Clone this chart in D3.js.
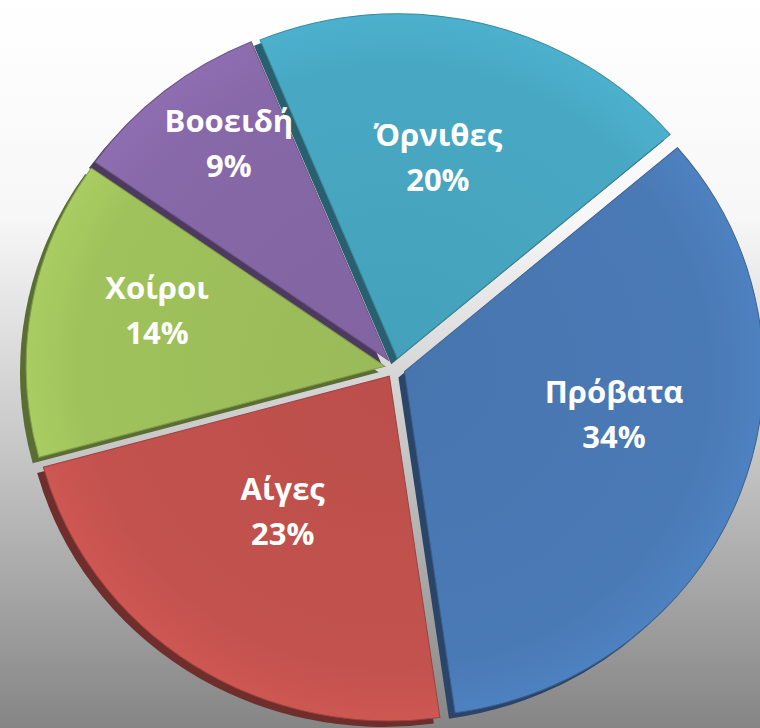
<!DOCTYPE html>
<html>
<head>
<script src="https://cdnjs.cloudflare.com/ajax/libs/d3/7.8.5/d3.min.js"></script>
<style>
  body { margin: 0; }
  text { font-family: "Open Sans", "DejaVu Sans", sans-serif; font-weight: bold; fill: #fff; }
</style>
</head>
<body>
<script>
// data
var categories = ["Πρόβατα", "Αίγες", "Χοίροι", "Βοοειδή", "Όρνιθες"];
var values = [34, 23, 14, 9, 20];
var percentLabels = ["34%", "23%", "14%", "9%", "20%"];
var colors = ["#4a7ab6", "#c3524e", "#a0c25c", "#8768a8", "#48a8c3"];

var width = 760, height = 728;
var cx = 395, cy = 368, radius = 350, explode = 10;
var sx = 1.025, sy = 0.985; // slight tilt of the pie
var startDeg = 49.5;
// label placement: distance from slice centre and small angle nudge (deg)
var labelPlace = [[214, -9.2], [172, 5.1], [235, 4.0], [270, 2.4], [205, -2.1]];

var svg = d3.select("body").append("svg")
	.attr("width", width)
	.attr("height", height);

var defs = svg.append("defs");
var bg = defs.append("linearGradient").attr("id", "bg")
	.attr("x1", 0).attr("y1", 0).attr("x2", 0).attr("y2", 1);
bg.append("stop").attr("offset", "0").attr("stop-color", "#ffffff");
bg.append("stop").attr("offset", "0.3").attr("stop-color", "#f7f7f7");
bg.append("stop").attr("offset", "0.62").attr("stop-color", "#c6c6c6");
bg.append("stop").attr("offset", "1").attr("stop-color", "#858585");

colors.forEach(function (c, i) {
	var g = defs.append("radialGradient").attr("id", "sl" + i)
		.attr("gradientUnits", "userSpaceOnUse")
		.attr("cx", 0).attr("cy", 0).attr("r", radius);
	g.append("stop").attr("offset", "0").attr("stop-color", d3.color(c).darker(0.12));
	g.append("stop").attr("offset", "0.85").attr("stop-color", c);
	g.append("stop").attr("offset", "1").attr("stop-color", d3.color(c).brighter(0.15));
});

svg.append("rect")
	.attr("width", width)
	.attr("height", height)
	.attr("fill", "url(#bg)");

var start = startDeg * Math.PI / 180;
var pie = d3.pie().sort(null).startAngle(start).endAngle(start + 2 * Math.PI);
var arc = d3.arc().innerRadius(0).outerRadius(radius);
var arcs = pie(values);

function shift(d) {
	var a = (d.startAngle + d.endAngle) / 2;
	return [explode * Math.sin(a), -explode * Math.cos(a)];
}

var pieG = svg.append("g")
	.attr("transform", "translate(" + cx + "," + cy + ") scale(" + sx + "," + sy + ")");

// side faces (thickness)
pieG.selectAll(".side")
	.data(arcs)
	.enter()
	.append("path")
	.attr("class", "side")
	.attr("transform", function (d) { var p = shift(d); return "translate(" + (p[0] - 6) + "," + (p[1] + 6) + ")"; })
	.attr("d", arc)
	.attr("fill", function (d, i) { return d3.color(colors[i]).darker(1.6); });

// top faces
pieG.selectAll(".slice")
	.data(arcs)
	.enter()
	.append("path")
	.attr("class", "slice")
	.attr("transform", function (d) { var p = shift(d); return "translate(" + p[0] + "," + p[1] + ")"; })
	.attr("d", arc)
	.attr("fill", function (d, i) { return "url(#sl" + i + ")"; })
	.attr("stroke", function (d, i) { return d3.color(colors[i]).darker(0.6); })
	.attr("stroke-width", 1);

// labels
var labels = svg.selectAll(".lab")
	.data(arcs)
	.enter()
	.append("g")
	.attr("class", "lab")
	.attr("transform", function (d, i) {
		var p = shift(d);
		var a = (d.startAngle + d.endAngle) / 2 + labelPlace[i][1] * Math.PI / 180;
		var r = labelPlace[i][0];
		return "translate(" + (cx + p[0] + r * Math.sin(a)) + "," + (cy + p[1] - r * Math.cos(a)) + ")";
	});

labels.append("text")
	.attr("text-anchor", "middle")
	.attr("y", -11)
	.attr("font-size", 31)
	.text(function (d, i) { return categories[i]; });

labels.append("text")
	.attr("text-anchor", "middle")
	.attr("y", 34)
	.attr("font-size", 31)
	.text(function (d, i) { return percentLabels[i]; });
</script>
</body>
</html>
